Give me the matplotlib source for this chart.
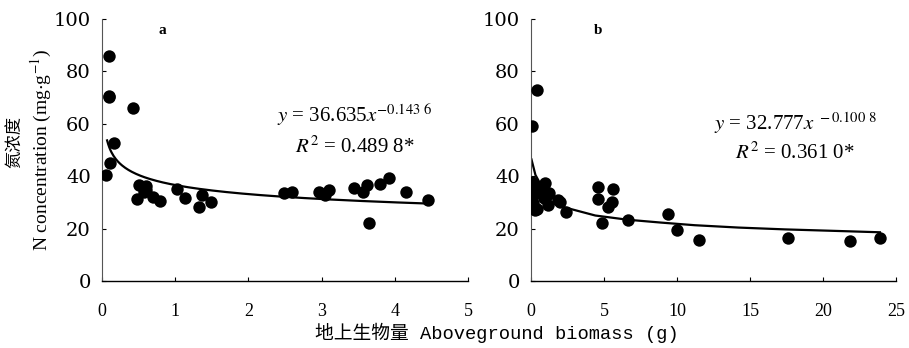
import numpy as np
import matplotlib
matplotlib.use("Agg")
import matplotlib.pyplot as plt

plt.rcParams['font.family'] = ['Liberation Serif', 'Noto Sans CJK SC', 'DejaVu Sans']
plt.rcParams['mathtext.fontset'] = 'stix'

# panel a: biomass (g) vs N concentration (mg/g)
a_x = [0.06, 0.09, 0.09, 0.10, 0.11, 0.17, 0.42, 0.48, 0.51, 0.57, 0.60, 0.60,
       0.70, 0.79, 1.03, 1.14, 1.32, 1.36, 1.49, 2.48, 2.59, 2.97, 3.05, 3.10,
       3.44, 3.56, 3.62, 3.65, 3.80, 3.92, 4.16, 4.45]
a_y = [40.5, 85.8, 70.8, 70.3, 45.0, 52.5, 65.9, 31.3, 36.6, 34.1, 36.3, 34.8,
       32.2, 30.7, 35.0, 31.8, 28.2, 32.9, 30.3, 33.4, 34.0, 34.0, 33.0, 34.9,
       35.5, 33.9, 36.6, 22.2, 37.1, 39.2, 34.0, 31.1]
# power trendline y = 36.635 x^-0.1436
a_fit = (36.635, -0.1436)
a_range = (0.07, 4.45)

# panel b
b_x = [0.07, 0.41, 0.09, 0.16, 0.18, 0.14, 0.27, 0.41, 0.62, 0.64, 0.96, 1.07,
       1.19, 1.21, 0.91, 1.87, 2.00, 2.37, 4.57, 4.57, 4.84, 5.30, 5.52, 5.64,
       6.62, 9.38, 10.0, 11.53, 17.58, 21.83, 23.88]
b_y = [59.3, 72.8, 37.9, 32.8, 36.2, 29.8, 27.1, 27.3, 34.8, 33.6, 37.3, 32.8,
       29.0, 33.6, 31.7, 31.0, 30.2, 26.5, 36.0, 31.3, 22.1, 28.2, 30.1, 35.0,
       23.3, 25.4, 19.4, 15.8, 16.3, 15.2, 16.3]
# trendline as drawn in panel b
b_line_x = [0.03, 0.3, 0.84, 2.1, 4.4, 6.6, 8.9, 11.2, 14.2, 17.4, 21.0, 23.9]
b_line_y = [46.4, 40.5, 35.0, 28.4, 25.0, 23.4, 22.3, 21.3, 20.4, 19.7, 19.1, 18.6]

fig = plt.figure(figsize=(9.09, 3.48), dpi=100)
ax_a = fig.add_axes([0.1122, 0.1925, 0.4026, 0.7529])
ax_b = fig.add_axes([0.5842, 0.1925, 0.4015, 0.7529])


def style(ax, xmax, xticks, tag, tagx, eq, r2, eqx, eqy, r2y):
    ax.set_xlim(0, xmax)
    ax.set_ylim(0, 100)
    ax.set_xticks(xticks)
    ax.set_yticks([0, 20, 40, 60, 80, 100])
    for s in ['top', 'right']:
        ax.spines[s].set_visible(False)
    ax.spines['left'].set_color('#555555')
    ax.spines['left'].set_linewidth(0.8)
    ax.spines['bottom'].set_linewidth(1.0)
    ax.tick_params(axis='x', direction='in', length=3, pad=16, labelsize=13)
    ax.tick_params(axis='y', direction='in', length=3, pad=8, labelsize=14,
                   labelfontfamily='DejaVu Serif')
    ax.text(tagx, 95.8, tag, fontsize=11, fontweight='bold', ha='center', va='center')
    ax.text(eqx, eqy, eq, fontsize=15, ha='center', va='center')
    ax.text(eqx, r2y, r2, fontsize=15, ha='center', va='center')


ax_a.scatter(a_x, a_y, s=80, color='black', zorder=3, linewidths=0)
xx = np.linspace(a_range[0], a_range[1], 300)
ax_a.plot(xx, a_fit[0] * xx ** a_fit[1], color='black', lw=1.6, zorder=2)
style(ax_a, 5, [0, 1, 2, 3, 4, 5], 'a', 0.82,
      r'$y$ = 36.635$x^{-0.143\ 6}$', r'$R^{2}$ = 0.489 8*', 3.45, 63.4, 51.1)

ax_b.scatter(b_x, b_y, s=80, color='black', zorder=3, linewidths=0)
ax_b.plot(b_line_x, b_line_y, color='black', lw=1.6, zorder=2)
style(ax_b, 25, [0, 5, 10, 15, 20, 25], 'b', 4.6,
      r'$y$ = 32.777$x^{\ -0.100\ 8}$', r'$R^{2}$ = 0.361 0*', 18.1, 60.3, 48.9)

fig.text(0.0165, 0.592, '氮浓度', rotation=90, ha='center', va='center',
         fontsize=12.5, family=['Noto Sans CJK SC'])
fig.text(0.046, 0.569, r'N concentration (mg$\cdot$g$^{-1}$)', rotation=90,
         ha='center', va='center', fontsize=14)
fig.text(0.547, 0.043, '地上生物量 Aboveground biomass (g)', ha='center', va='center',
         fontsize=13.5, family=['Liberation Mono', 'Noto Sans CJK SC'])

fig.savefig('out.png', dpi=100)
